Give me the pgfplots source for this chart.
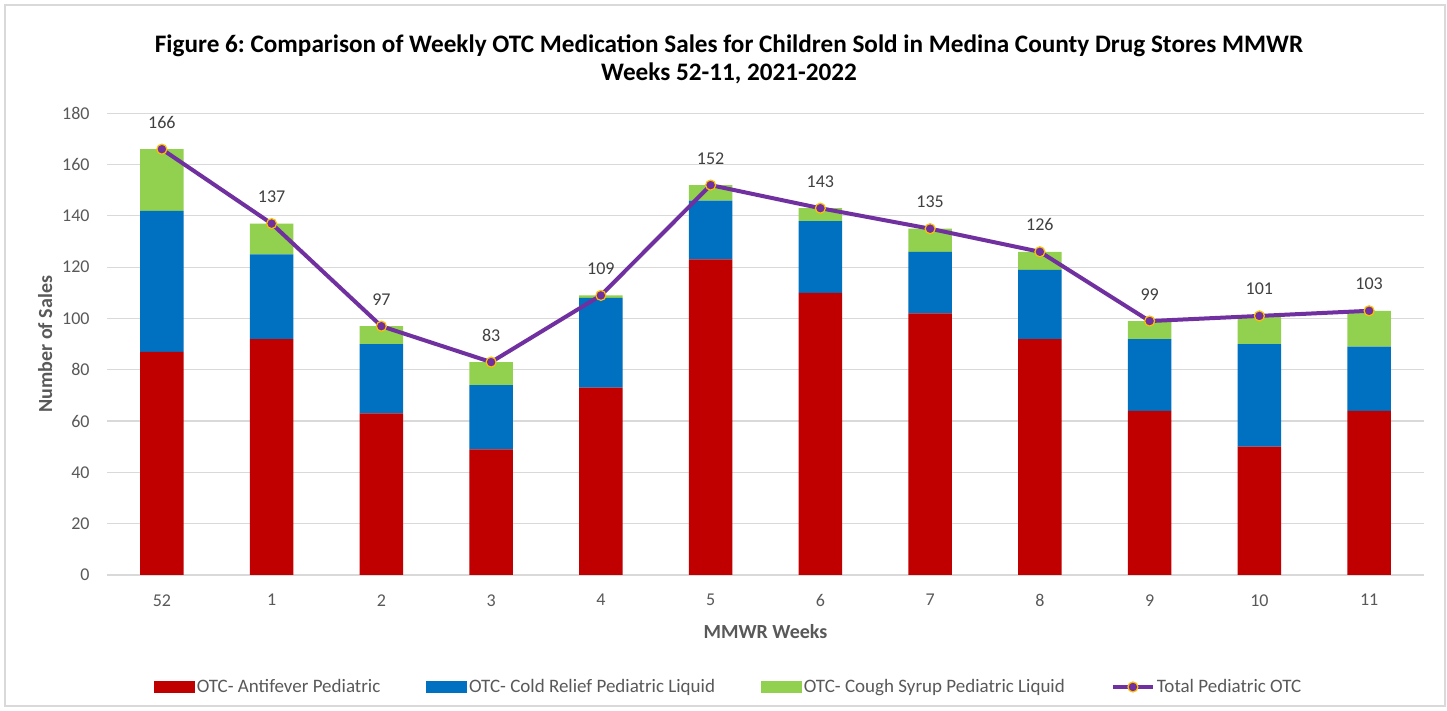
\documentclass[border=0pt]{standalone}
\usepackage{pgfplots}
\pgfplotsset{compat=1.18}
\usepackage{fontspec}
\setmainfont{Carlito}
\frenchspacing
\definecolor{cred}{HTML}{C00000}
\definecolor{cblue}{HTML}{0070C0}
\definecolor{cgreen}{HTML}{92D050}
\definecolor{cpurple}{HTML}{7030A0}
\definecolor{cgold}{HTML}{FFC000}
\definecolor{cgrid}{HTML}{D9D9D9}
\definecolor{ctick}{HTML}{595959}
\definecolor{clabel}{HTML}{404040}
\definecolor{cframe}{HTML}{D9D9D9}
\pgfplotsset{
  common/.style={
    at={(53.5pt,68pt)}, anchor=south west, scale only axis,
    width=658.5pt, height=230.85pt,
    xmin=-0.5, xmax=11.5, ymin=0, ymax=180,
    /pgf/number format/assume math mode=true,
  },
  mylinelegend/.style={legend image code/.code={\draw[mark repeat=2,mark phase=2,##1] plot coordinates {(0pt,0pt) (10pt,0pt) (20pt,0pt)};}},
}
\begin{document}
\begin{tikzpicture}
\useasboundingbox (0,0) rectangle (723.5pt,355.5pt);
\fill[white] (0,0) rectangle (723.5pt,355.5pt);
\draw[cframe, line width=0.6pt] (2.5pt,2.5pt) rectangle (722.5pt,353pt);
\node[font=\bfseries\fontsize{12.6}{14}\selectfont, align=center] at (364.5pt,326pt)
  {Figure 6: Comparison of Weekly OTC Medication Sales for Children Sold in Medina County Drug Stores MMWR\\Weeks 52-11, 2021-2022};
\begin{axis}[common,
  ybar stacked, bar width=21.65pt,
  ytick={0,20,...,180},
  xtick={0,...,11}, xticklabels={52,1,2,3,4,5,6,7,8,9,10,11},
  axis line style={draw=none}, major tick length=0pt,
  ymajorgrids, grid style={cgrid, line width=0.6pt},
  tick label style={font=\fontsize{9}{11}\selectfont, text=ctick},
  yticklabel style={inner sep=0pt, xshift=-8.5pt},
  xticklabel style={inner sep=0pt, anchor=north, yshift=-9.5pt},
  xlabel={MMWR Weeks}, ylabel={Number of Sales},
  label style={font=\bfseries\fontsize{10}{12}\selectfont, text=ctick},
  x label style={at={(axis description cs:0.5,-0.1235)}, anchor=center},
  y label style={at={(axis description cs:-0.047,0.5)}, anchor=center},
]
\addplot[fill=cred, draw=none] coordinates {(0,87) (1,92) (2,63) (3,49) (4,73) (5,123) (6,110) (7,102) (8,92) (9,64) (10,50) (11,64)};
\addplot[fill=cblue, draw=none] coordinates {(0,55) (1,33) (2,27) (3,25) (4,35) (5,23) (6,28) (7,24) (8,27) (9,28) (10,40) (11,25)};
\addplot[fill=cgreen, draw=none] coordinates {(0,24) (1,12) (2,7) (3,9) (4,1) (5,6) (6,5) (7,9) (8,7) (9,7) (10,11) (11,14)};
\end{axis}
\begin{axis}[common, hide axis, clip=false,
  legend style={at={(0.472,-0.2426)}, anchor=center, draw=none, fill=none,
    legend columns=4, font=\fontsize{9.5}{11}\selectfont, text=ctick,
    /tikz/every even column/.append style={column sep=22pt},
    inner sep=0pt, nodes={inner sep=1pt}},
  legend cell align=left,
]
\addlegendimage{legend image code/.code={\fill[cred] (0pt,-2.75pt) rectangle (20pt,2.75pt);}}
\addlegendentry{OTC- Antifever Pediatric}
\addlegendimage{legend image code/.code={\fill[cblue] (0pt,-2.75pt) rectangle (20pt,2.75pt);}}
\addlegendentry{OTC- Cold Relief Pediatric Liquid}
\addlegendimage{legend image code/.code={\fill[cgreen] (0pt,-2.75pt) rectangle (20pt,2.75pt);}}
\addlegendentry{OTC- Cough Syrup Pediatric Liquid}
\addplot[cpurple, line width=2pt, mark=*, mark size=2.5pt,
  mark options={fill=cpurple, draw=cgold, line width=0.6pt},
  nodes near coords,
  every node near coord/.append style={font=\fontsize{9}{11}\selectfont, text=clabel, anchor=south, yshift=6.8pt},
  mylinelegend
] coordinates {(0,166) (1,137) (2,97) (3,83) (4,109) (5,152) (6,143) (7,135) (8,126) (9,99) (10,101) (11,103)};
\addlegendentry{Total Pediatric OTC}
\end{axis}
\end{tikzpicture}
\end{document}
